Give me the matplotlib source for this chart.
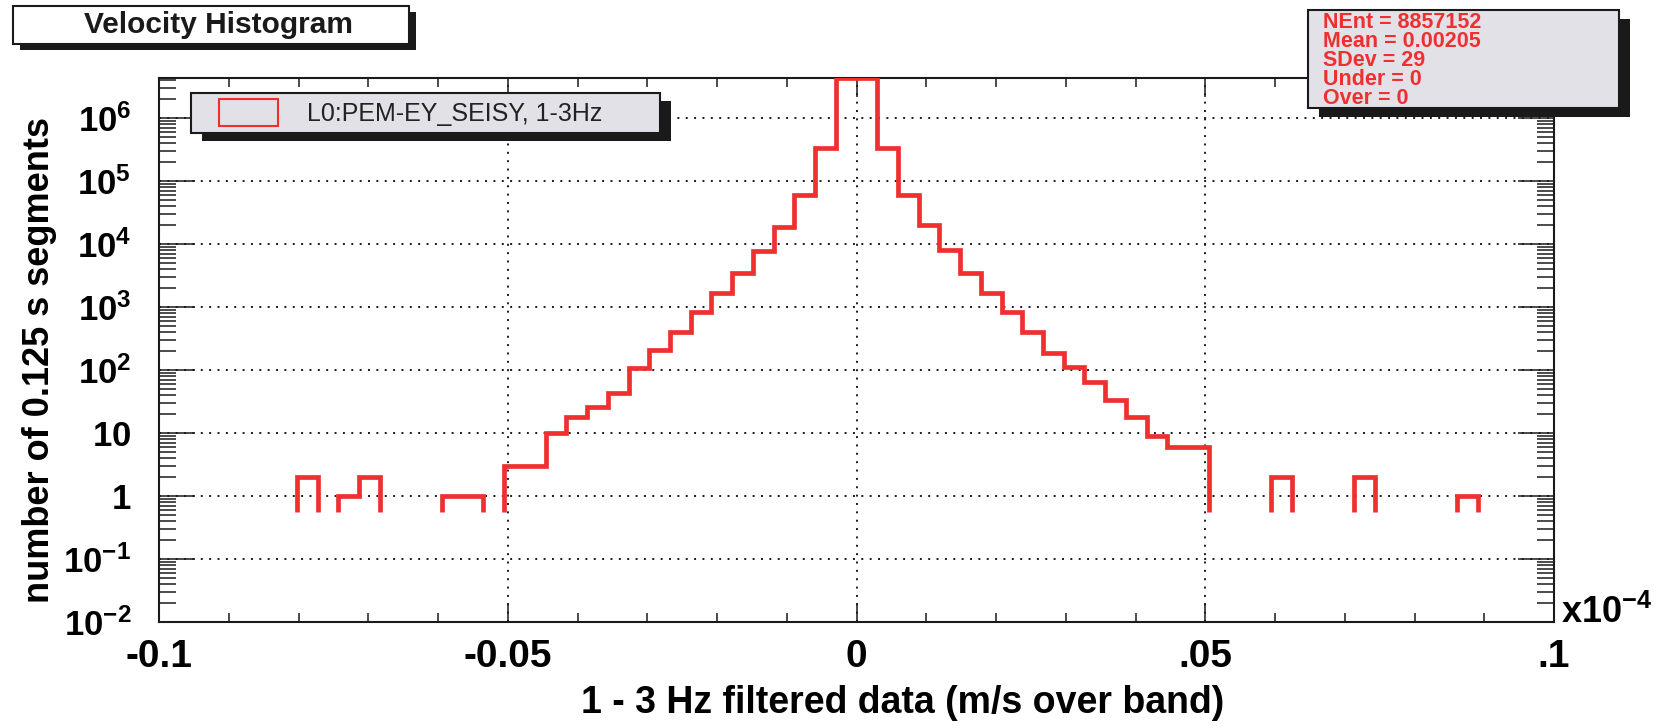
import matplotlib
matplotlib.use('Agg')
import matplotlib.pyplot as plt
from matplotlib.patches import Rectangle
from matplotlib.ticker import LogLocator, MultipleLocator, NullFormatter
import numpy as np

# histogram values (bin k spans (k-27)*w .. (k-26)*w)
bin_width = 0.002971
first_bin = -27
counts = [2, 0, 1, 2, 0, 0, 0, 1, 1, 0,
          3, 3, 10, 18, 26, 44, 109, 209, 404, 830,
          1660, 3540, 7900, 19000, 61000, 336000, 4.4e6, 4.4e6, 336000, 61000,
          20300, 8100, 3540, 1700, 830, 408, 189, 113, 65, 33,
          18, 9, 6, 6, 0, 0, 0, 2, 0, 0,
          0, 2, 0, 0, 0, 0, 1]
empty_level = 0.55

xticks = [-0.1, -0.05, 0, 0.05, 0.1]
xtick_labels = ['-0.1', '-0.05', '0', '.05', '.1']
yticks = [1e-2, 1e-1, 1, 10, 1e2, 1e3, 1e4, 1e5, 1e6]
ytick_labels = [r'$10^{-2}$', r'$10^{-1}$', r'$1\enspace$', r'$10\enspace$', r'$10^{2}$',
                r'$10^{3}$', r'$10^{4}$', r'$10^{5}$', r'$10^{6}$']

title = 'Velocity Histogram'
legend_label = 'L0:PEM-EY_SEISY, 1-3Hz'
stats_lines = ['NEnt = 8857152', 'Mean = 0.00205', 'SDev = 29', 'Under = 0', 'Over = 0']
xlabel = '1 - 3 Hz filtered data (m/s over band)'
ylabel = 'number of 0.125 s segments'

plt.rcParams['font.family'] = 'Liberation Sans'
plt.rcParams['mathtext.fontset'] = 'custom'
plt.rcParams['mathtext.rm'] = 'Liberation Sans:bold'
plt.rcParams['mathtext.it'] = 'Liberation Sans:bold'
plt.rcParams['mathtext.bf'] = 'Liberation Sans:bold'

RED = '#ee3030'
W, H = 1661, 728


def fx(x):
    return x / W


def fy(y):
    return 1 - y / H


def box(x0, y0, x1, y1, face, off=(8, 6)):
    shadow = Rectangle((fx(x0 + off[0]), fy(y1 + off[1])), (x1 - x0) / W, (y1 - y0) / H,
                       transform=fig.transFigure, facecolor='#1a1a1a', edgecolor='none', zorder=10)
    main = Rectangle((fx(x0), fy(y1)), (x1 - x0) / W, (y1 - y0) / H,
                     transform=fig.transFigure, facecolor=face, edgecolor='#1a1a1a', lw=1.5, zorder=11)
    fig.add_artist(shadow)
    fig.add_artist(main)


fig = plt.figure(figsize=(16.61, 7.28), dpi=100)
ax = fig.add_axes([fx(159), fy(622), (1554 - 159) / W, (622 - 78) / H])

edges = (first_bin + np.arange(len(counts) + 1)) * bin_width
counts = np.array(counts, dtype=float)

# draw each run of non-empty bins as its own outline
k = 0
while k < len(counts):
    if counts[k] > 0:
        j = k
        while j < len(counts) and counts[j] > 0:
            j += 1
        ax.stairs(counts[k:j], edges[k:j + 1], baseline=empty_level, color=RED, lw=3.4,
                  joinstyle='miter', zorder=3)
        k = j
    else:
        k += 1

ax.set_yscale('log')
ax.set_xlim(-0.1, 0.1)
ax.set_ylim(1e-2, 4.35e6)

ax.set_xticks(xticks)
ax.set_xticklabels(xtick_labels, fontsize=28, fontweight='bold')
ax.xaxis.set_minor_locator(MultipleLocator(0.01))
ax.set_yticks(yticks)
ax.set_yticklabels(ytick_labels, fontsize=25)
ax.yaxis.set_minor_locator(LogLocator(base=10, subs=np.arange(2, 10), numticks=50))
ax.yaxis.set_minor_formatter(NullFormatter())

ax.tick_params(which='both', direction='in', top=True, right=True, width=1.1, color='#1a1a1a')
ax.tick_params(axis='x', which='major', length=14, pad=12)
ax.tick_params(axis='x', which='minor', length=6.5)
ax.tick_params(axis='y', which='major', length=26, pad=20)
ax.tick_params(axis='y', which='minor', length=12)

ax.grid(True, which='major', color='#1a1a1a', ls=(0, (1, 3.3)), lw=1.4)
for s in ax.spines.values():
    s.set_linewidth(1.5)
    s.set_color('#1a1a1a')

fig.text(fx(903), fy(703), xlabel, fontsize=27, fontweight='bold', ha='center', va='center')
fig.text(fx(40), fy(360), ylabel, fontsize=26, fontweight='bold', ha='center', va='center',
         rotation=90)
fig.text(fx(1561), fy(613), r'$x10^{-4}$', fontsize=26, ha='left', va='center')

# title box
box(13, 6, 409, 44, 'white', off=(7, 6))
fig.text(fx(219), fy(25), title, fontsize=21.5, fontweight='bold', ha='center', va='center',
         color='#1a1a1a', zorder=12)

# stats box
box(1308, 10, 1619, 108, '#e1e1e7', off=(11, 9))
for i, line in enumerate(stats_lines):
    fig.text(fx(1323), fy(22 + i * 19.2), line, fontsize=15.5, fontweight='bold', color=RED,
             ha='left', va='center', zorder=12)

# legend box
box(191, 93, 660, 133, '#e1e1e7', off=(11, 8))
fig.add_artist(Rectangle((fx(219), fy(126)), 59 / W, 27 / H, transform=fig.transFigure,
                         facecolor='none', edgecolor=RED, lw=1.5, zorder=12))
fig.text(fx(307), fy(114), legend_label, fontsize=18, color='#222222', ha='left',
         va='center', zorder=12)

fig.savefig('out.png', dpi=100)
